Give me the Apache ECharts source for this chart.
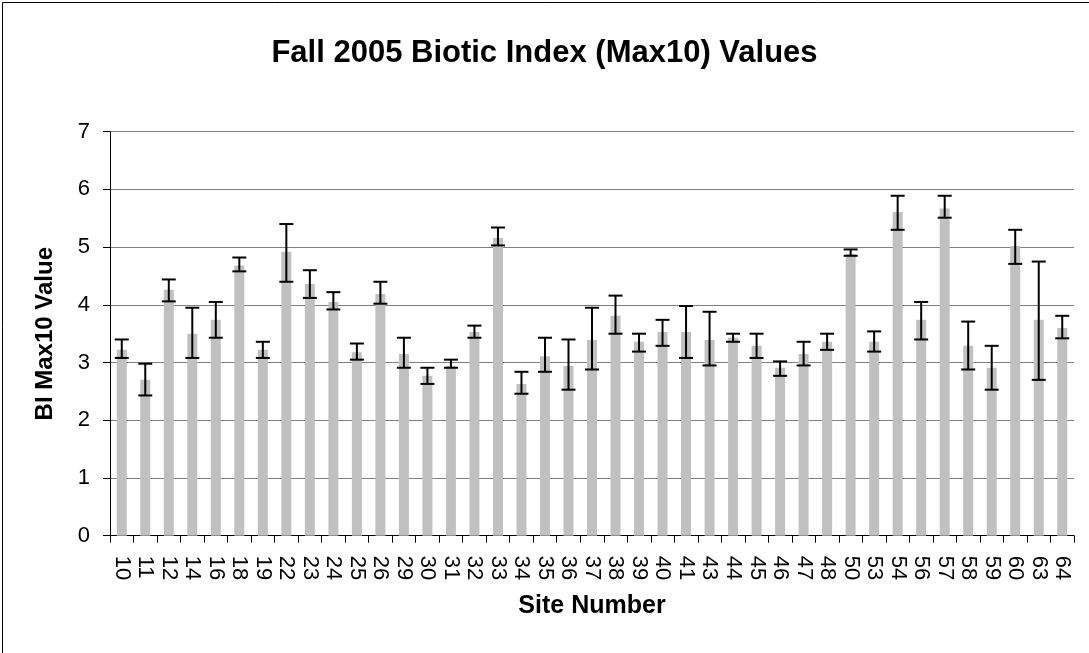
<!DOCTYPE html>
<html>
<head>
<meta charset="utf-8">
<script src="https://cdn.jsdelivr.net/npm/echarts@6/dist/echarts.min.js"></script>
<style>
  html, body { margin: 0; padding: 0; background: #fff; }
  #chart { width: 1089px; height: 653px; }
</style>
</head>
<body>
<div id="chart"></div>
<script>
// site numbers along the x axis
const sites = ['10', '11', '12', '14', '16', '18', '19', '22', '23', '24', '25', '26', '29', '30', '31',
  '32', '33', '34', '35', '36', '37', '38', '39', '40', '41', '43', '44', '45', '46', '47', '48',
  '50', '53', '54', '56', '57', '58', '59', '60', '63', '64']

// mean BI Max10 value per site
const biValues = [3.22, 2.70, 4.26, 3.50, 3.74, 4.68, 3.22, 4.92, 4.36, 4.05, 3.18, 4.19, 3.15, 2.77, 2.94,
  3.53, 5.16, 2.63, 3.11, 2.94, 3.39, 3.81, 3.36, 3.53, 3.53, 3.39, 3.43, 3.29, 2.91, 3.15, 3.36,
  4.88, 3.36, 5.61, 3.74, 5.67, 3.29, 2.91, 5.02, 3.74, 3.60]

// error bar ends
const errHigh = [3.40, 2.98, 4.44, 3.95, 4.05, 4.82, 3.36, 5.40, 4.60, 4.22, 3.33, 4.40, 3.43, 2.91, 3.05,
  3.64, 5.34, 2.84, 3.43, 3.40, 3.95, 4.16, 3.50, 3.74, 3.98, 3.88, 3.50, 3.50, 3.02, 3.36, 3.50,
  4.96, 3.54, 5.89, 4.05, 5.89, 3.71, 3.29, 5.30, 4.75, 3.81]
const errLow = [3.08, 2.43, 4.06, 3.08, 3.43, 4.58, 3.08, 4.40, 4.12, 3.92, 3.05, 4.02, 2.91, 2.63, 2.91,
  3.43, 5.03, 2.46, 2.84, 2.53, 2.88, 3.50, 3.19, 3.29, 3.08, 2.95, 3.36, 3.08, 2.77, 2.95, 3.22,
  4.85, 3.19, 5.30, 3.40, 5.51, 2.88, 2.53, 4.71, 2.70, 3.42]

const yTicks = [0, 1, 2, 3, 4, 5, 6, 7]

const fontFamily = 'Arial, "Liberation Sans", sans-serif'

const chart = echarts.init(document.getElementById('chart'))

const option = {
  animation: false,
  backgroundColor: '#ffffff',
  title: {
    text: 'Fall 2005 Biotic Index (Max10) Values',
    left: 'center',
    top: 33,
    textStyle: {
      fontFamily: fontFamily,
      fontSize: 31,
      fontWeight: 'bold',
      color: '#000'
    }
  },
  graphic: [
    {
      type: 'polyline',
      shape: { points: [[2.5, 653], [2.5, 2.5], [1089, 2.5]] },
      style: { stroke: '#000', lineWidth: 1, fill: null },
      silent: true
    }
  ],
  grid: {
    left: 110,
    right: 15,
    top: 131.7,
    bottom: 117.3
  },
  xAxis: {
    type: 'category',
    data: sites,
    boundaryGap: true,
    name: 'Site Number',
    nameLocation: 'middle',
    nameGap: 58,
    nameTextStyle: {
      fontFamily: fontFamily,
      fontSize: 25,
      fontWeight: 'bold',
      color: '#000'
    },
    axisLine: { lineStyle: { color: '#000', width: 1 } },
    axisTick: { show: true, length: 7, lineStyle: { color: '#000' } },
    axisLabel: {
      rotate: -90,
      interval: 0,
      margin: 20,
      fontFamily: fontFamily,
      fontSize: 22,
      color: '#000'
    }
  },
  yAxis: {
    type: 'value',
    min: yTicks[0],
    max: yTicks[yTicks.length - 1],
    interval: 1,
    name: 'BI Max10 Value',
    nameLocation: 'middle',
    nameGap: 53,
    nameTextStyle: {
      fontFamily: fontFamily,
      fontSize: 24,
      fontWeight: 'bold',
      color: '#000'
    },
    axisLine: { show: true, lineStyle: { color: '#000', width: 1 } },
    axisTick: { show: true, length: 7, lineStyle: { color: '#000' } },
    axisLabel: {
      margin: 20,
      fontFamily: fontFamily,
      fontSize: 22,
      color: '#000'
    },
    splitLine: { show: true, lineStyle: { color: '#808080', width: 1 } }
  },
  series: [
    {
      name: 'BI Max10',
      type: 'bar',
      data: biValues,
      barWidth: 10,
      itemStyle: { color: '#c0c0c0' }
    },
    {
      name: 'Error',
      type: 'custom',
      data: sites.map((s, i) => [i, errHigh[i], errLow[i]]),
      z: 10,
      renderItem: function (params, api) {
        const top = api.coord([api.value(0), api.value(1)])
        const bottom = api.coord([api.value(0), api.value(2)])
        const half = 7
        const style = { stroke: '#000', lineWidth: 2 }
        return {
          type: 'group',
          children: [
            { type: 'line', shape: { x1: top[0], y1: top[1], x2: bottom[0], y2: bottom[1] }, style: style },
            { type: 'line', shape: { x1: top[0] - half, y1: top[1], x2: top[0] + half, y2: top[1] }, style: style },
            { type: 'line', shape: { x1: bottom[0] - half, y1: bottom[1], x2: bottom[0] + half, y2: bottom[1] }, style: style }
          ]
        }
      }
    }
  ]
}

chart.setOption(option)
</script>
</body>
</html>
